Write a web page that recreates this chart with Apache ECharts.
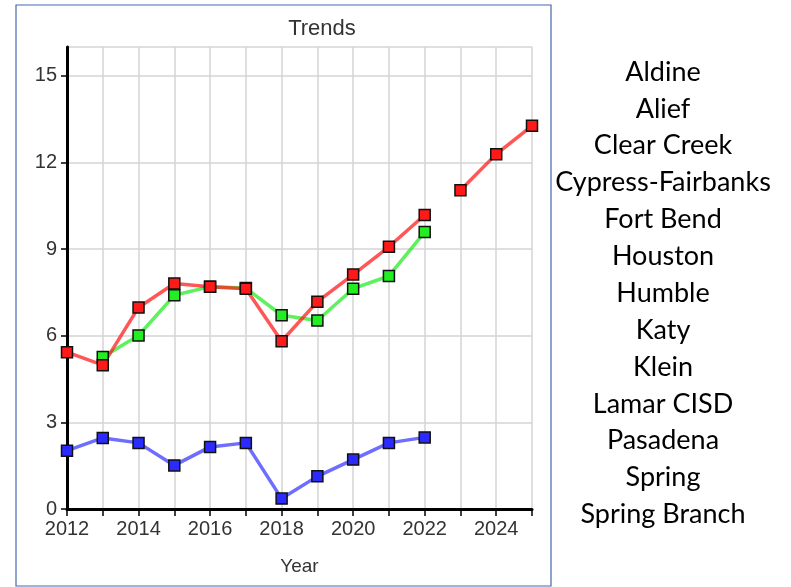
<!DOCTYPE html>
<html>
<head>
<meta charset="utf-8">
<title>Trends</title>
<script src="https://cdn.jsdelivr.net/npm/echarts@6/dist/echarts.min.js"></script>
<style>
  html, body { margin: 0; padding: 0; background: #fff; }
  #chart { width: 791px; height: 587px; }
</style>
</head>
<body>
<div id="chart"></div>
<script>
// values
const years = [2012, 2013, 2014, 2015, 2016, 2017, 2018, 2019, 2020, 2021, 2022]
const redValues = [5.43, 4.98, 6.98, 7.81, 7.7, 7.63, 5.81, 7.18, 8.12, 9.08, 10.18]
const greenValues = [null, 5.26, 6.01, 7.4, 7.7, 7.65, 6.71, 6.53, 7.63, 8.07, 9.59]
const blueValues = [2.02, 2.46, 2.29, 1.51, 2.15, 2.29, 0.36, 1.13, 1.71, 2.29, 2.48]
const projYears = [2023, 2024, 2025]
const projValues = [11.04, 12.29, 13.27]
const districts = [
  'Aldine', 'Alief', 'Clear Creek', 'Cypress-Fairbanks', 'Fort Bend', 'Houston',
  'Humble', 'Katy', 'Klein', 'Lamar CISD', 'Pasadena', 'Spring', 'Spring Branch'
]

const chart = echarts.init(document.getElementById('chart'))

const pair = (xs, ys) => xs.map((x, i) => [x, ys[i]])

const lineSeries = (data, fill, line) => ({
  type: 'line',
  data: data,
  symbol: 'rect',
  symbolSize: 11,
  connectNulls: false,
  itemStyle: { color: fill, borderColor: '#111', borderWidth: 1.5 },
  lineStyle: { color: line, width: 3.5 },
  emphasis: { disabled: true },
})

const textFont = 'Liberation Sans, Arial, sans-serif'

const option = {
  animation: false,
  title: {
    text: 'Trends',
    left: 317,
    top: 13,
    textAlign: 'center',
    textStyle: { fontFamily: textFont, fontSize: 22, fontWeight: 'normal', color: '#333' },
  },
  grid: { left: 67, right: 259, top: 47, bottom: 78 },
  xAxis: {
    type: 'value',
    min: 2012,
    max: 2025,
    interval: 1,
    name: 'Year',
    nameLocation: 'middle',
    nameGap: 48,
    nameTextStyle: { fontFamily: textFont, fontSize: 19, color: '#333' },
    axisLine: { lineStyle: { color: '#000', width: 3 } },
    axisTick: { length: 7, lineStyle: { color: '#000', width: 1.5 } },
    axisLabel: {
      margin: 10,
      fontFamily: textFont,
      fontSize: 20,
      color: '#333',
      formatter: v => (v % 2 === 0 ? String(v) : ''),
    },
    splitLine: { show: true, lineStyle: { color: '#d4d4d4', width: 1.5 } },
  },
  yAxis: {
    type: 'value',
    min: 0,
    max: 16,
    interval: 3,
    axisLine: { show: true, lineStyle: { color: '#000', width: 3 } },
    axisTick: { show: true, length: 6, lineStyle: { color: '#000', width: 1.5 } },
    axisLabel: {
      margin: 10,
      fontFamily: textFont,
      fontSize: 20,
      color: '#333',
      showMaxLabel: false,
    },
    splitLine: { show: true, lineStyle: { color: '#d4d4d4', width: 1.5 } },
  },
  series: [
    lineSeries(pair(years, blueValues), '#2b2bff', 'rgba(60,60,255,0.75)'),
    lineSeries(pair(years, greenValues), '#22ee22', 'rgba(40,235,40,0.75)'),
    lineSeries(pair(years, redValues), '#ff1a1a', 'rgba(255,30,30,0.75)'),
    lineSeries(pair(projYears, projValues), '#ff1a1a', 'rgba(255,30,30,0.75)'),
  ],
  graphic: [
    {
      type: 'rect',
      shape: { x: 16, y: 5, width: 535, height: 581 },
      style: { fill: null, stroke: '#4468ad', lineWidth: 1.2 },
      silent: true,
    },
    ...districts.map((name, i) => ({
      type: 'text',
      x: 663,
      y: 72 + i * 36.87,
      style: {
        text: name,
        fontFamily: 'Lato, sans-serif',
        fontSize: 27,
        fill: '#000',
        align: 'center',
        verticalAlign: 'middle',
      },
      silent: true,
    })),
  ],
}

chart.setOption(option)
</script>
</body>
</html>
